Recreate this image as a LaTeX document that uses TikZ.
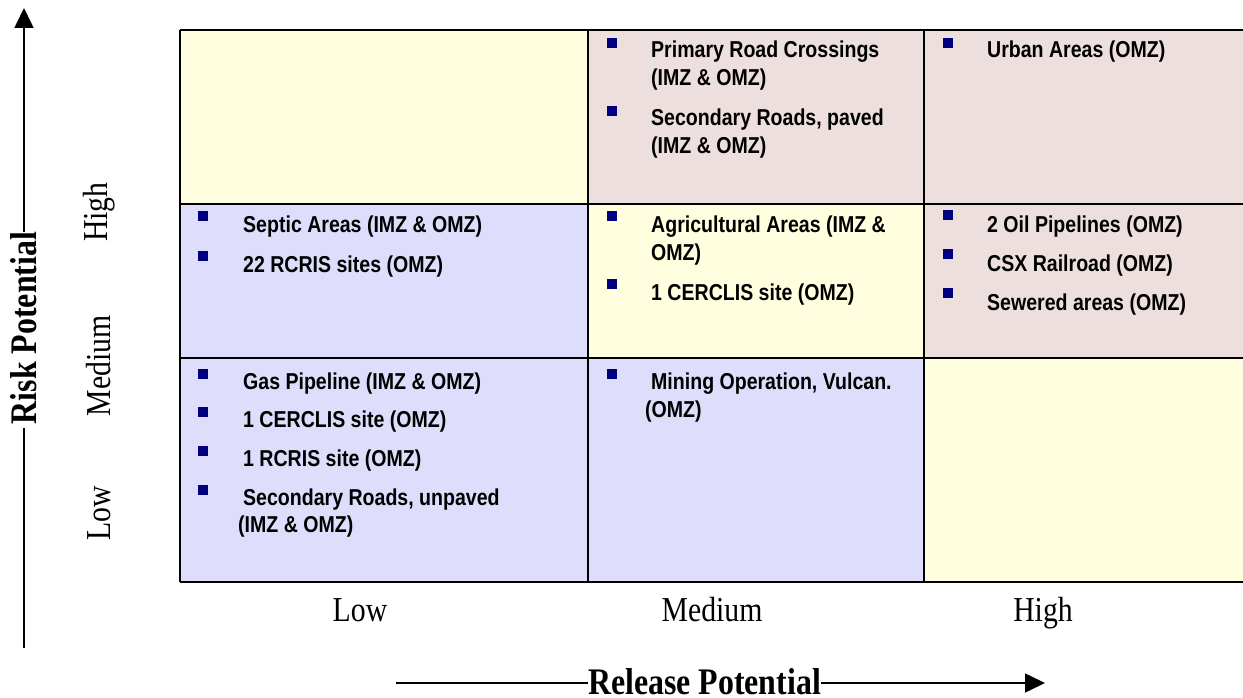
\documentclass[tikz,border=0pt]{standalone}
\usepackage{fontspec}
\setmainfont{Liberation Serif}[FakeStretch=0.85]
\newfontfamily\cellfont{Liberation Sans}[FakeStretch=0.85]
\usetikzlibrary{arrows.meta}
\definecolor{cyel}{HTML}{FFFFE0}
\definecolor{cpink}{HTML}{EEDFDF}
\definecolor{cblue}{HTML}{DEDEFC}
\definecolor{bnavy}{HTML}{000080}
\begin{document}
\begin{tikzpicture}[x=1pt,y=-1pt,
  item/.style={anchor=base west, inner sep=0pt, font=\cellfont\bfseries\fontsize{23}{27}\selectfont},
  bul/.style={fill=bnavy, minimum size=10.5pt, inner sep=0pt, draw=none},
  axlab/.style={font=\fontsize{35}{38}\selectfont, inner sep=0pt},
  axtitle/.style={font=\bfseries\fontsize{37.5}{40}\selectfont, fill=white, inner sep=0pt},
  grid/.style={line width=2pt},
  axis/.style={line width=1.6pt, -{Triangle[width=19pt,length=20pt]}}]
\useasboundingbox (0,0) rectangle (1243,698);
% cells
\fill[cyel]  (180,30)  rectangle (588,204);
\fill[cpink] (588,30)  rectangle (924,204);
\fill[cpink] (924,30)  rectangle (1243,204);
\fill[cblue] (180,204) rectangle (588,358);
\fill[cyel]  (588,204) rectangle (924,358);
\fill[cpink] (924,204) rectangle (1243,358);
\fill[cblue] (180,358) rectangle (588,582);
\fill[cblue] (588,358) rectangle (924,582);
\fill[cyel]  (924,358) rectangle (1243,582);
% grid lines
\draw[grid] (180,30) -- (1243,30);
\draw[grid] (180,204) -- (1243,204);
\draw[grid] (180,358) -- (1243,358);
\draw[grid] (180,582) -- (1243,582);
\draw[grid] (180,30) -- (180,582);
\draw[grid] (588,30) -- (588,582);
\draw[grid] (924,30) -- (924,582);
% top middle
\node[bul] (b1) at (612,43) {};
\node[item] (t1a) at (651,58) {Primary Road Crossings};
\node[item] (t1b) at (651,86) {(IMZ \& OMZ)};
\node[bul] (b2) at (612,111) {};
\node[item] (t2a) at (651,126) {Secondary Roads, paved};
\node[item] (t2b) at (651,154) {(IMZ \& OMZ)};
% top right
\node[bul] (b3) at (948,43) {};
\node[item] (t3) at (987,58) {Urban Areas (OMZ)};
% middle left
\node[bul] (b4) at (203,216) {};
\node[item] (t4) at (243,232) {Septic Areas (IMZ \& OMZ)};
\node[bul] (b5) at (203,256) {};
\node[item] (t5) at (243,272) {22 RCRIS sites (OMZ)};
% middle middle
\node[bul] (b6) at (612,216) {};
\node[item] (t6a) at (651,232) {Agricultural Areas (IMZ \&};
\node[item] (t6b) at (651,260) {OMZ)};
\node[bul] (b7) at (612,284) {};
\node[item] (t7) at (651,300) {1 CERCLIS site (OMZ)};
% middle right
\node[bul] (b8) at (948,215) {};
\node[item] (t8) at (987,232) {2 Oil Pipelines (OMZ)};
\node[bul] (b9) at (948,254) {};
\node[item] (t9) at (987,271) {CSX Railroad (OMZ)};
\node[bul] (b10) at (948,293) {};
\node[item] (t10) at (987,310) {Sewered areas (OMZ)};
% bottom left
\node[bul] (b11) at (203,374) {};
\node[item] (t11) at (243,389) {Gas Pipeline (IMZ \& OMZ)};
\node[bul] (b12) at (203,412) {};
\node[item] (t12) at (243,427) {1 CERCLIS site (OMZ)};
\node[bul] (b13) at (203,451) {};
\node[item] (t13) at (243,466) {1 RCRIS site (OMZ)};
\node[bul] (b14) at (203,490) {};
\node[item] (t14a) at (243,505) {Secondary Roads, unpaved};
\node[item] (t14b) at (238,532) {(IMZ \& OMZ)};
% bottom middle
\node[bul] (b15) at (612,374) {};
\node[item] (t15a) at (651,389) {Mining Operation, Vulcan.};
\node[item] (t15b) at (645,417) {(OMZ)};
% axis labels
\node[axlab, anchor=base] (xl) at (360,621) {Low};
\node[axlab, anchor=base] (xm) at (712,621) {Medium};
\node[axlab, anchor=base] (xh) at (1043,621) {High};
\node[axlab, rotate=90] (yh) at (99,212) {High};
\node[axlab, rotate=90] (ym) at (99,366) {Medium};
\node[axlab, rotate=90] (yl) at (99,513) {Low};
% axes
\coordinate (xs) at (396,683);
\coordinate (xe) at (1045,683);
\coordinate (ys) at (24,648);
\coordinate (ye) at (24,8);
\draw[axis] (xs) -- (xe);
\draw[axis] (ys) -- (ye);
\node[axtitle, anchor=base west] (xt) at (588,694) {Release Potential\hspace{5pt}};
\node[axtitle, rotate=90] (yt) at (24,330) {\hspace{4pt}Risk Potential\hspace{4pt}};
\end{tikzpicture}
\end{document}
